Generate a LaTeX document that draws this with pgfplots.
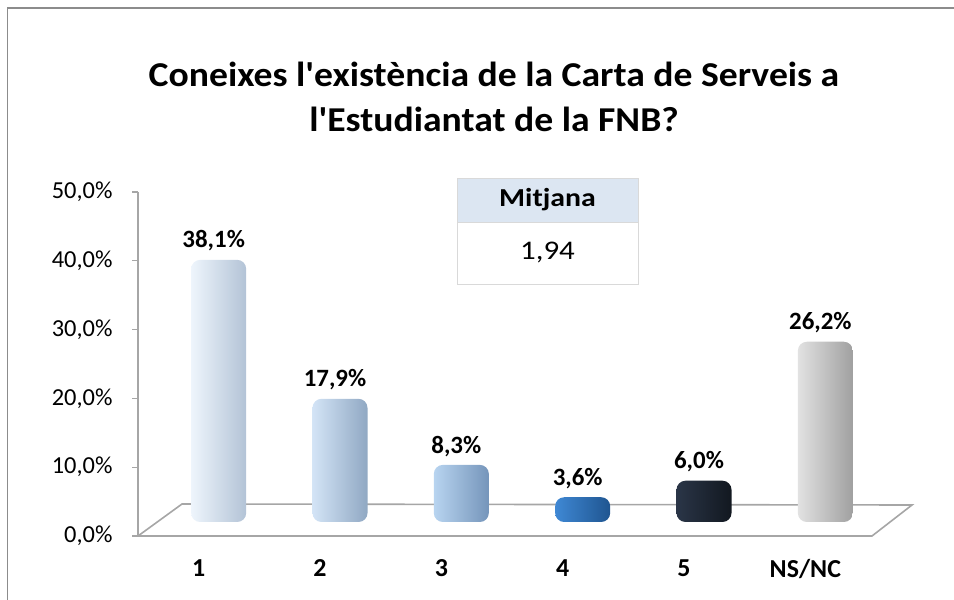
\documentclass[border=0pt]{standalone}
\usepackage{pgfplots}
\pgfplotsset{compat=1.18}
\usepackage{fontspec}
\setmainfont{Carlito}
\definecolor{axgray}{HTML}{A6A6A6}
\definecolor{framegray}{HTML}{8C8C8C}
\definecolor{hdr}{HTML}{DCE6F2}
\definecolor{bonel}{HTML}{EEF5FC}\definecolor{bonem}{HTML}{DAE8F6}\definecolor{boner}{HTML}{B3C3D6}
\definecolor{btwol}{HTML}{D3E4F6}\definecolor{btwom}{HTML}{BAD3EE}\definecolor{btwor}{HTML}{90A8C3}
\definecolor{bthrl}{HTML}{B8D4F0}\definecolor{bthrm}{HTML}{9CC2E6}\definecolor{bthrr}{HTML}{7595BA}
\definecolor{bfoul}{HTML}{3F88D4}\definecolor{bfoum}{HTML}{2E76C4}\definecolor{bfour}{HTML}{1F5590}
\definecolor{bfivl}{HTML}{2A3547}\definecolor{bfivm}{HTML}{1E2736}\definecolor{bfivr}{HTML}{121820}
\definecolor{bnsl}{HTML}{E2E2E2}\definecolor{bnsm}{HTML}{CECECE}\definecolor{bnsr}{HTML}{A0A0A0}
\begin{document}
\begin{tikzpicture}[x=1bp,y=1bp]
\useasboundingbox (0,0) rectangle (954,600);
% outer frame
\draw[framegray, line width=1.3bp] (7.5,0) -- (7.5,592) -- (954,592);
% title
\node[align=center, xscale=1.08, transform shape, font=\fontsize{35}{45}\selectfont\bfseries] at (494,503)
  {Coneixes l\textquotesingle existència de la Carta de Serveis a\\l\textquotesingle Estudiantat de la FNB?};
% floor
\draw[axgray, line width=1.6bp, fill=white] (138,64) -- (872,64) -- (912,95) -- (182,96) -- cycle;
% axis with ticks and labels
\begin{axis}[
  at={(138bp,64bp)}, anchor=south west,
  scale only axis, width=728bp, height=344bp,
  xmin=-0.5, xmax=5.5, ymin=0, ymax=50,
  axis lines*=left,
  x axis line style={draw=none},
  y axis line style={axgray, line width=1.2bp},
  xtick={0,1,2,3,4,5},
  xticklabels={1,2,3,4,5,NS/NC},
  xtick style={draw=none},
  ytick={0,10,20,30,40,50},
  yticklabels={{0,0\%},{10,0\%},{20,0\%},{30,0\%},{40,0\%},{50,0\%}},
  ytick style={axgray, line width=1.2bp},
  tick align=outside, major tick length=6bp,
  xticklabel style={font=\fontsize{26}{30}\selectfont\bfseries, yshift=-14bp},
  yticklabel style={font=\fontsize{24.5}{28}\selectfont, xshift=-16bp},
]
\end{axis}
% bars (drawn with depth offset)
\begin{axis}[
  at={(158bp,78bp)}, anchor=south west,
  scale only axis, width=728bp, height=344bp,
  xmin=-0.5, xmax=5.5, ymin=0, ymax=50,
  hide axis,
  ybar, bar width=55bp, bar shift=0pt,
  point meta=explicit symbolic,
  nodes near coords,
  every node near coord/.append style={font=\fontsize{25}{29}\selectfont\bfseries, text=black, yshift=5bp, xshift=-5bp},
]
\addplot[draw=none, rounded corners=9bp, left color=bonel, middle color=bonem, right color=boner] coordinates {(0,38.1) [38,1\%]};
\addplot[draw=none, rounded corners=9bp, left color=btwol, middle color=btwom, right color=btwor] coordinates {(1,17.9) [17,9\%]};
\addplot[draw=none, rounded corners=9bp, left color=bthrl, middle color=bthrm, right color=bthrr] coordinates {(2,8.3) [8,3\%]};
\addplot[draw=none, rounded corners=9bp, left color=bfoul, middle color=bfoum, right color=bfour] coordinates {(3,3.6) [3,6\%]};
\addplot[draw=none, rounded corners=9bp, left color=bfivl, middle color=bfivm, right color=bfivr] coordinates {(4,6.0) [6,0\%]};
\addplot[draw=none, rounded corners=9bp, left color=bnsl, middle color=bnsm, right color=bnsr] coordinates {(5,26.2) [26,2\%]};
\end{axis}
% Mitjana box
\fill[hdr] (457,378) rectangle (638,422);
\draw[black!15, line width=0.8bp] (457,316) rectangle (638,422);
\draw[black!15, line width=0.8bp] (457,378) -- (638,378);
\node[xscale=1.15, transform shape, font=\fontsize{26}{30}\selectfont\bfseries] at (547.5,400) {Mitjana};
\node[xscale=1.15, transform shape, font=\fontsize{27}{31}\selectfont] at (547.5,347) {1,94};
\end{tikzpicture}
\end{document}
